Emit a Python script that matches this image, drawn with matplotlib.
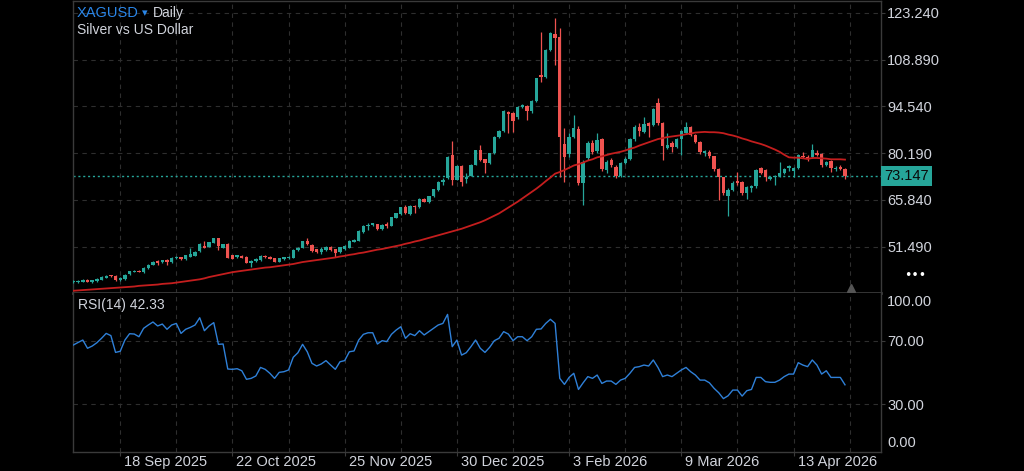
import numpy as np
import pandas as pd
import matplotlib
matplotlib.use("Agg")
import matplotlib.pyplot as plt
import matplotlib.transforms as mtransforms

# trading calendar of the chart (daily bars, a few holidays without a bar)
start_date = "2025-09-04"
end_date = "2026-04-28"
holidays = ["2025-12-25", "2026-01-01", "2026-04-03"]

# OHLC
open_ = [40.6, 40.7, 40.8, 41.4, 40.7, 41.0, 41.4, 42.0, 42.7, 42.5,
         41.4, 41.6, 43.0, 43.8, 44.2, 43.6, 44.9, 46.0, 47.0, 46.7,
         47.3, 46.7, 47.9, 48.3, 47.6, 48.5, 48.8, 50.2, 51.8, 51.5,
         52.7, 54.1, 51.2, 52.3, 48.9, 48.2, 48.8, 48.4, 46.6, 47.0,
         47.4, 48.8, 48.4, 47.9, 46.9, 47.6, 48.0, 48.1, 50.5, 51.2,
         53.3, 52.0, 50.7, 49.8, 50.5, 51.5, 50.7, 49.9, 50.8, 51.2,
         53.0, 53.3, 56.0, 57.9, 58.2, 58.4, 56.8, 58.5, 57.9, 60.4,
         61.5, 63.6, 61.4, 64.0, 63.6, 66.2, 65.2, 67.0, 68.9, 71.3,
         72.5, 79.6, 72.0, 76.2, 72.2, 73.3, 76.6, 81.1, 78.3, 77.1,
         80.1, 85.2, 87.0, 92.9, 92.4, 91.2, 94.4, 94.6, 93.0, 96.3,
         104.1, 103.6, 111.8, 116.7, 115.9, 83.0, 79.8, 85.2, 87.6, 70.9,
         78.6, 83.3, 80.8, 84.4, 75.0, 78.2, 76.0, 73.2, 77.1, 78.5,
         84.4, 88.3, 86.8, 89.5, 88.8, 95.5, 89.3, 81.8, 83.4, 82.2,
         84.4, 86.5, 88.1, 85.7, 83.7, 80.1, 80.6, 79.2, 75.2, 72.8,
         67.0, 68.9, 71.7, 71.3, 67.9, 69.4, 70.1, 75.5, 75.0, 72.3,
         72.8, 73.2, 74.2, 75.5, 74.8, 75.5, 79.4, 79.1, 78.9, 80.1,
         79.9, 76.5, 77.9, 75.3, 76.0, 75.3]
high = [41.2, 41.2, 41.6, 41.6, 41.4, 41.9, 42.4, 42.7, 42.9, 42.7,
        42.1, 43.1, 44.2, 44.4, 44.4, 45.2, 46.2, 47.1, 47.3, 47.5,
        47.6, 48.2, 48.6, 48.5, 49.1, 51.2, 50.2, 52.5, 53.3, 53.0,
        54.3, 54.3, 52.4, 52.5, 49.1, 49.1, 49.0, 48.6, 47.3, 47.9,
        49.0, 49.0, 48.6, 48.1, 48.1, 48.4, 48.7, 50.7, 51.4, 53.4,
        54.3, 52.3, 50.9, 51.5, 51.7, 51.8, 50.9, 51.5, 51.9, 53.6,
        53.9, 56.6, 58.2, 58.7, 58.9, 58.6, 58.5, 59.2, 60.7, 61.9,
        63.8, 64.3, 64.2, 64.2, 66.3, 66.4, 67.2, 69.3, 71.6, 72.5,
        79.3, 84.0, 76.4, 76.4, 74.0, 76.8, 81.3, 82.6, 78.5, 80.3,
        85.4, 87.2, 93.3, 93.2, 92.7, 94.6, 95.3, 95.0, 96.5, 103.3,
        117.4, 112.0, 117.4, 121.5, 118.4, 88.0, 86.5, 92.0, 88.5, 78.0,
        84.0, 84.2, 86.3, 84.8, 78.0, 78.8, 76.4, 77.5, 79.0, 84.8,
        88.8, 89.3, 91.4, 89.8, 94.0, 97.0, 89.6, 86.5, 83.8, 84.8,
        87.4, 89.6, 88.5, 86.0, 84.0, 81.3, 81.0, 79.4, 75.5, 73.0,
        69.5, 71.5, 74.5, 71.6, 70.0, 70.5, 75.3, 76.0, 75.3, 73.2,
        73.6, 77.6, 75.6, 76.5, 76.0, 80.0, 80.6, 79.5, 83.0, 81.0,
        80.2, 77.9, 78.2, 76.3, 76.6, 75.5]
low = [40.4, 40.5, 40.6, 40.6, 40.5, 40.8, 41.2, 41.8, 42.2, 41.1,
       41.1, 41.4, 42.8, 43.6, 43.6, 43.4, 44.7, 45.8, 45.9, 46.4,
       45.9, 46.5, 47.7, 47.4, 47.4, 48.3, 48.6, 50.0, 51.0, 51.3,
       52.5, 50.5, 51.0, 47.9, 47.6, 48.0, 47.9, 46.4, 45.4, 46.8,
       47.2, 48.0, 47.6, 46.7, 46.7, 47.4, 47.8, 47.9, 50.3, 51.0,
       52.1, 50.0, 49.7, 49.3, 50.3, 50.3, 48.5, 49.7, 50.6, 51.0,
       52.8, 53.1, 55.8, 56.6, 58.0, 56.6, 56.6, 57.1, 57.7, 60.2,
       61.3, 61.5, 61.2, 61.9, 63.4, 65.1, 65.0, 66.8, 68.7, 70.4,
       72.3, 70.4, 71.8, 70.2, 71.0, 73.1, 76.4, 77.9, 74.0, 76.9,
       79.9, 84.8, 86.8, 86.3, 86.8, 90.8, 94.0, 90.3, 92.6, 96.0,
       102.0, 103.3, 111.5, 107.2, 73.0, 71.2, 79.0, 84.8, 70.5, 64.2,
       78.0, 80.0, 80.3, 74.8, 74.0, 76.0, 72.5, 72.8, 76.8, 78.2,
       84.0, 85.3, 86.5, 85.2, 88.5, 88.8, 78.1, 81.5, 80.6, 81.8,
       79.6, 86.2, 85.4, 83.3, 80.0, 79.4, 78.8, 74.8, 65.8, 67.5,
       60.9, 68.5, 70.5, 67.5, 66.0, 68.3, 69.6, 73.7, 71.5, 71.8,
       70.5, 72.9, 73.9, 74.8, 73.0, 75.2, 78.6, 77.9, 78.6, 79.2,
       76.0, 76.2, 74.5, 74.8, 75.0, 72.2]
close = [41.0, 41.0, 41.4, 40.8, 41.2, 41.7, 42.2, 42.5, 42.4, 41.3,
         41.9, 42.9, 44.0, 44.2, 43.8, 45.0, 46.0, 46.9, 46.5, 47.3,
         46.8, 48.0, 48.4, 47.6, 48.9, 49.2, 50.0, 52.3, 51.2, 52.8,
         54.1, 51.8, 52.2, 48.1, 47.8, 48.9, 48.1, 46.6, 47.1, 47.7,
         48.8, 48.2, 47.8, 46.9, 47.9, 48.2, 48.5, 50.5, 51.2, 53.2,
         52.3, 50.3, 49.9, 50.7, 51.5, 50.5, 49.7, 51.3, 51.7, 53.4,
         53.7, 56.4, 58.0, 58.3, 58.7, 56.8, 58.3, 57.9, 60.5, 61.7,
         63.6, 61.7, 64.0, 63.6, 66.1, 65.3, 67.0, 69.1, 71.4, 71.9,
         79.1, 72.0, 76.2, 71.2, 73.0, 76.6, 81.1, 78.1, 77.1, 80.1,
         85.2, 87.0, 93.1, 92.2, 90.1, 94.4, 94.9, 93.1, 96.3, 103.1,
         103.4, 111.8, 116.9, 115.4, 85.2, 79.1, 85.2, 88.0, 70.9, 77.6,
         83.3, 80.6, 84.2, 75.2, 77.4, 76.5, 73.2, 77.1, 78.5, 84.4,
         88.3, 87.1, 89.2, 88.4, 93.7, 89.3, 82.4, 82.6, 82.0, 84.4,
         87.0, 88.3, 85.8, 83.7, 80.4, 80.8, 79.2, 75.2, 72.8, 67.9,
         68.9, 71.1, 70.9, 67.9, 69.7, 70.1, 75.0, 74.0, 73.0, 72.8,
         73.2, 74.0, 75.2, 76.2, 75.5, 79.6, 78.9, 78.3, 81.2, 79.5,
         76.5, 77.6, 75.5, 75.7, 75.3, 73.147]

# red moving average line
sma50 = [38.0, 38.1, 38.2, 38.3, 38.4, 38.5, 38.6, 38.7, 38.8, 38.9,
         39.0, 39.1, 39.2, 39.3, 39.5, 39.6, 39.7, 39.8, 39.9, 40.1,
         40.2, 40.3, 40.5, 40.7, 40.9, 41.1, 41.3, 41.5, 41.8, 42.2,
         42.5, 42.8, 43.1, 43.4, 43.7, 43.9, 44.1, 44.3, 44.5, 44.7,
         44.9, 45.1, 45.2, 45.4, 45.6, 45.8, 46.0, 46.2, 46.5, 46.8,
         47.0, 47.2, 47.4, 47.6, 47.8, 48.0, 48.2, 48.5, 48.7, 49.0,
         49.2, 49.5, 49.7, 50.0, 50.3, 50.6, 50.8, 51.1, 51.4, 51.7,
         52.0, 52.4, 52.7, 53.1, 53.4, 53.8, 54.2, 54.6, 55.0, 55.4,
         55.8, 56.2, 56.6, 57.0, 57.5, 58.0, 58.5, 59.0, 59.6, 60.3,
         61.0, 61.7, 62.6, 63.5, 64.4, 65.3, 66.3, 67.3, 68.3, 69.3,
         70.4, 71.6, 72.7, 73.9, 74.4, 75.0, 75.7, 76.4, 76.8, 77.3,
         77.9, 78.3, 78.9, 79.2, 79.6, 80.0, 80.3, 80.6, 81.0, 81.5,
         81.9, 82.5, 83.0, 83.5, 84.0, 84.5, 84.8, 85.1, 85.3, 85.5,
         85.7, 86.0, 86.2, 86.5, 86.6, 86.7, 86.6, 86.6, 86.5, 86.3,
         85.9, 85.6, 85.2, 84.7, 84.3, 83.8, 83.4, 83.0, 82.5, 81.9,
         81.3, 80.6, 79.7, 78.9, 78.8, 78.8, 78.6, 78.4, 78.7, 78.7,
         78.6, 78.5, 78.3, 78.3, 78.3, 78.2]

rsi14 = [67.5, 69.1, 70.6, 65.4, 66.8, 68.9, 71.7, 74.8, 73.4, 62.8,
         63.5, 70.6, 74.6, 74.4, 72.7, 78.0, 80.1, 82.0, 79.5, 80.7,
         77.4, 80.1, 81.1, 74.8, 77.4, 78.6, 80.1, 84.7, 76.5, 79.5,
         81.6, 67.9, 68.1, 52.3, 52.1, 52.5, 51.2, 45.8, 46.4, 47.9,
         53.3, 52.1, 49.6, 46.4, 50.2, 50.6, 51.7, 59.7, 62.6, 67.9,
         63.2, 55.9, 54.2, 55.5, 57.6, 54.8, 52.1, 56.9, 57.6, 63.2,
         63.7, 70.6, 74.2, 75.2, 75.2, 68.1, 70.2, 69.6, 74.2, 76.9,
         79.0, 71.7, 74.6, 73.4, 76.5, 73.8, 75.9, 78.0, 80.1, 81.1,
         86.8, 66.4, 70.6, 61.1, 62.6, 66.4, 70.6, 65.4, 62.8, 66.0,
         70.2, 71.7, 75.9, 74.4, 70.2, 72.7, 72.7, 70.2, 72.7, 77.4,
         77.6, 81.1, 83.7, 81.1, 46.4, 42.6, 47.0, 49.6, 39.4, 43.6,
         47.5, 46.4, 48.5, 43.2, 44.7, 44.7, 42.6, 45.3, 46.4, 49.6,
         53.3, 53.8, 54.8, 54.2, 58.0, 53.3, 47.5, 48.5, 47.5, 49.6,
         51.7, 53.3, 50.6, 48.5, 45.3, 45.3, 43.6, 40.1, 37.3, 33.6,
         35.4, 39.0, 39.0, 35.2, 38.6, 39.4, 47.0, 47.0, 44.3, 43.9,
         43.9, 45.3, 47.5, 49.1, 49.1, 56.3, 54.8, 53.8, 58.0, 54.8,
         49.1, 51.2, 47.0, 47.0, 47.0, 42.33]

price_ticks = [51.49, 65.84, 80.19, 94.54, 108.89, 123.24]
date_ticks = ["2025-09-18", "2025-10-22", "2025-11-25", "2025-12-30",
              "2026-02-03", "2026-03-09", "2026-04-13"]
last_price = 73.147
rsi_last = 42.33

BG = "#000000"
UP = "#26a69a"
DOWN = "#ef5350"
GRID = "#2e2e2e"
FRAME = "#3a3a3a"
TEXT = "#d1d4dc"
BLUE = "#2a86e8"

plt.rcParams["font.family"] = ["Liberation Sans", "DejaVu Sans"]

days = pd.bdate_range(start_date, end_date)
days = days[~days.isin(pd.to_datetime(holidays))]
x = np.arange(len(days))

o = np.array(open_)
c = np.array(close)
up = c >= o
colors = np.where(up, UP, DOWN)

W, H = 1024, 471
fig = plt.figure(figsize=(W / 100, H / 100), dpi=100, facecolor=BG)
ax = fig.add_axes([73 / W, 1 - 293 / H, 808 / W, 292 / H], facecolor=BG)
ax2 = fig.add_axes([73 / W, 1 - 452 / H, 808 / W, 159 / H], facecolor=BG, sharex=ax)

# candles
ax.vlines(x, low, high, colors=colors, linewidth=0.9, zorder=3)
body_h = np.maximum(np.abs(c - o), 0.18)
ax.bar(x, body_h, bottom=np.minimum(o, c), width=0.72, color=colors,
       linewidth=0, zorder=4)

ax.plot(x, sma50, color="#c41e1e", lw=1.3, zorder=5)
ax.axhline(last_price, color=UP, lw=1.0, ls=(0, (1.5, 2)), zorder=2)

ax.set_ylim(37.31, 126.83)
ax.set_xlim(-0.1, 172.7)

# x ticks from the dates
major = [days.get_loc(pd.Timestamp(d)) for d in date_ticks]
minor = [(a + b) / 2 for a, b in zip(major[:-1], major[1:])]
minor.append(major[-1] + (major[-1] - major[-2]) / 2)
labels = [f"{pd.Timestamp(d).day} {pd.Timestamp(d).strftime('%b %Y')}" for d in date_ticks]

for a in (ax, ax2):
    a.set_xticks(major)
    a.set_xticks(minor, minor=True)
    a.grid(True, which="both", axis="x", color=GRID, ls=(0, (4, 4)), lw=0.8)
    for s in a.spines.values():
        s.set_color(FRAME)
        s.set_linewidth(1.0)
    a.tick_params(axis="x", which="minor", length=0)

ax.grid(True, axis="y", color=GRID, ls=(0, (4, 4)), lw=0.8)
ax.set_axisbelow(True)
ax.spines["bottom"].set_linewidth(2.0)
ax.yaxis.tick_right()
ax.set_yticks(price_ticks)
ax.set_yticklabels([f"{v:.3f}" for v in price_ticks])
ax.tick_params(axis="y", colors=FRAME, labelcolor=TEXT, length=3, width=0.8,
               pad=1.5, labelsize=10.5)
ax.tick_params(axis="x", which="both", bottom=False, labelbottom=False)

# last price tag
tr = mtransforms.blended_transform_factory(ax.transAxes, ax.transData)
ax.text(1.0 + 3 / 808, last_price, f"{last_price:.3f}", transform=tr,
        ha="left", va="center", fontsize=10.5, color="#0a0a0a", zorder=10,
        bbox=dict(boxstyle="square,pad=0.22", fc=UP, ec="none"), clip_on=False)

# RSI pane
ax2.plot(x, rsi14, color="#2f80d8", lw=1.0, zorder=3)
for lvl in (70, 30):
    ax2.axhline(lvl, color=GRID, ls=(0, (4, 4)), lw=0.8, zorder=1)
ax2.set_ylim(-0.12, 100.32)
ax2.spines["top"].set_visible(False)
ax2.yaxis.tick_right()
ax2.set_yticks([30, 70])
ax2.set_yticklabels(["30.00", "70.00"])
ax2.tick_params(axis="y", colors=FRAME, labelcolor=TEXT, length=3, width=0.8,
                pad=1.5, labelsize=10.5)
ax2.tick_params(axis="x", which="major", colors=FRAME, length=3, width=0.8,
                labelbottom=False)

# date labels sit to the right of their tick, like the app draws them
trx = mtransforms.blended_transform_factory(ax2.transData, ax2.transAxes)
off_x = mtransforms.ScaledTranslation(4 / 100, -10 / 100, fig.dpi_scale_trans)
for pos, lab in zip(major, labels):
    ax2.text(pos, 0, lab, transform=trx + off_x, ha="left", va="center",
             fontsize=10.5, color=TEXT, clip_on=False)

tr2 = mtransforms.blended_transform_factory(ax2.transAxes, ax2.transData)
off_top = mtransforms.ScaledTranslation(6 / 100, -8.5 / 100, fig.dpi_scale_trans)
off_bot = mtransforms.ScaledTranslation(6 / 100, 8.8 / 100, fig.dpi_scale_trans)
ax2.text(1.0, 100, "100.00", transform=tr2 + off_top, ha="left", va="center",
         fontsize=10.5, color=TEXT, clip_on=False)
ax2.text(1.0, 0, "0.00", transform=tr2 + off_bot, ha="left", va="center",
         fontsize=10.5, color=TEXT, clip_on=False)

# header texts
fig.text(77 / W, 1 - 13 / H, "XAGUSD", color=BLUE, fontsize=10.5, va="center", ha="left")
fig.text(141.5 / W, 1 - 13.5 / H, "▾", color=BLUE, fontsize=8, va="center", ha="left",
         family=["DejaVu Sans"])
fig.text(152.5 / W, 1 - 13 / H, "Daily", color=TEXT, fontsize=10, va="center", ha="left")
fig.text(77 / W, 1 - 30 / H, "Silver vs US Dollar", color=TEXT, fontsize=10,
         va="center", ha="left")
fig.text(78 / W, 1 - 305.5 / H, f"RSI(14) {rsi_last:.2f}", color=TEXT, fontsize=10,
         va="center", ha="left")

# chart widgets
fig.text(915 / W, 1 - 275 / H, "•••", color="white", fontsize=9, ha="center",
         va="center", family=["DejaVu Sans"])
ax.plot([0.963], [0.018], marker="^", ms=6, color="#555555", transform=ax.transAxes,
        clip_on=False, zorder=6)

fig.savefig("out.png", dpi=100, facecolor=BG)
